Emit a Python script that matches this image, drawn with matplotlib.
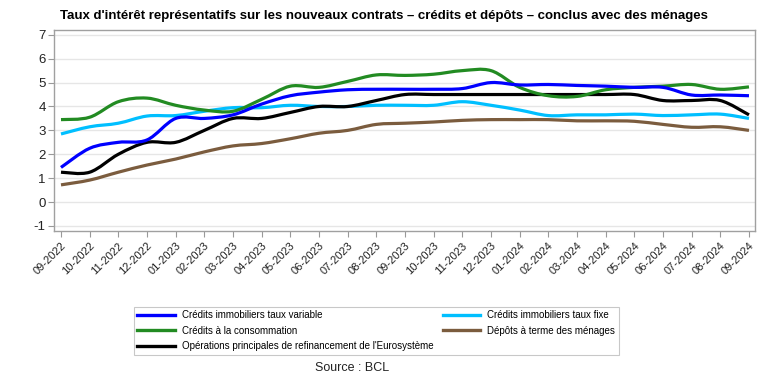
import numpy as np
import matplotlib
matplotlib.use("Agg")
import matplotlib.pyplot as plt
from matplotlib.path import Path
from matplotlib.patches import PathPatch
from matplotlib.lines import Line2D

plt.rcParams['font.family'] = ['Liberation Sans', 'DejaVu Sans']

months = ["09-2022", "10-2022", "11-2022", "12-2022", "01-2023", "02-2023", "03-2023",
          "04-2023", "05-2023", "06-2023", "07-2023", "08-2023", "09-2023", "10-2023",
          "11-2023", "12-2023", "01-2024", "02-2024", "03-2024", "04-2024", "05-2024",
          "06-2024", "07-2024", "08-2024", "09-2024"]

credits_variable = [1.45, 2.25, 2.5, 2.6, 3.5, 3.5, 3.65, 4.1, 4.45, 4.6, 4.7, 4.72, 4.72,
                    4.72, 4.75, 5.0, 4.9, 4.92, 4.88, 4.85, 4.8, 4.8, 4.48, 4.48, 4.45]
credits_fixe = [2.85, 3.15, 3.3, 3.6, 3.62, 3.8, 3.95, 3.95, 4.05, 4.0, 4.0, 4.05, 4.05,
                4.05, 4.2, 4.05, 3.85, 3.62, 3.65, 3.65, 3.68, 3.62, 3.65, 3.68, 3.5]
credits_conso = [3.45, 3.55, 4.2, 4.35, 4.05, 3.85, 3.8, 4.3, 4.85, 4.8, 5.05, 5.32, 5.3,
                 5.35, 5.5, 5.5, 4.8, 4.45, 4.42, 4.7, 4.8, 4.85, 4.92, 4.72, 4.82]
depots_terme = [0.72, 0.92, 1.25, 1.55, 1.8, 2.1, 2.35, 2.45, 2.65, 2.88, 3.0, 3.25, 3.3,
                3.35, 3.42, 3.45, 3.45, 3.45, 3.4, 3.4, 3.38, 3.25, 3.13, 3.15, 3.0]
operations_bce = [1.25, 1.25, 2.0, 2.5, 2.5, 3.0, 3.5, 3.5, 3.75, 4.0, 4.0, 4.25, 4.5,
                  4.5, 4.5, 4.5, 4.5, 4.5, 4.5, 4.5, 4.5, 4.25, 4.25, 4.25, 3.65]

series = [
    ("Crédits immobiliers taux variable", credits_variable, "#0000FF"),
    ("Crédits à la consommation", credits_conso, "#228B22"),
    ("Opérations principales de refinancement de l'Eurosystème", operations_bce, "#000000"),
    ("Crédits immobiliers taux fixe", credits_fixe, "#00BFFF"),
    ("Dépôts à terme des ménages", depots_terme, "#7B5C3E"),
]
draw_order = [4, 3, 2, 1, 0]

fig = plt.figure(figsize=(7.68, 3.84), dpi=100)
ax = fig.add_axes([54 / 768, 1 - 231 / 384, (755 - 54) / 768, (231 - 30) / 384])

x = np.arange(len(months))


def smooth_path(xs, ys, t=0.5):
    xs = np.asarray(xs, float)
    ys = np.asarray(ys, float)
    verts = [(xs[0], ys[0])]
    codes = [Path.MOVETO]
    n = len(xs)
    for i in range(n - 1):
        x0, y0 = (xs[i - 1], ys[i - 1]) if i > 0 else (xs[i], ys[i])
        x1, y1 = xs[i], ys[i]
        x2, y2 = xs[i + 1], ys[i + 1]
        x3, y3 = (xs[i + 2], ys[i + 2]) if i + 2 < n else (xs[i + 1], ys[i + 1])
        c1 = (x1 + (x2 - x0) / 6 * t * 2, y1 + (y2 - y0) / 6 * t * 2)
        c2 = (x2 - (x3 - x1) / 6 * t * 2, y2 - (y3 - y1) / 6 * t * 2)
        verts += [c1, c2, (x2, y2)]
        codes += [Path.CURVE4, Path.CURVE4, Path.CURVE4]
    return Path(verts, codes)


handles = []
for label, vals, color in series:
    handles.append(Line2D([0], [0], color=color, lw=2.4, label=label))

for i in draw_order:
    label, vals, color = series[i]
    patch = PathPatch(smooth_path(x, vals), facecolor='none', edgecolor=color,
                      lw=2.3, capstyle='butt', joinstyle='round', zorder=3 + (5 - i) * 0.1)
    ax.add_patch(patch)

ax.set_xlim(-0.244, len(months) - 1 + 0.21)
ax.set_ylim(-1.21, 7.2)
ax.set_yticks(range(-1, 8))
ax.set_yticklabels([str(v) for v in range(-1, 8)], fontsize=9.5, color='#222222')
ax.set_xticks(x)
ax.set_xticklabels(months, rotation=45, ha='right', rotation_mode='anchor', fontsize=8,
                   color='#222222')
ax.tick_params(axis='both', direction='out', length=4, width=0.8, colors='#999999',
               labelcolor='#222222', pad=2)
ax.tick_params(axis='x', pad=3)
ax.grid(axis='y', color='#e6e6e6', lw=1)
ax.set_axisbelow(True)
for sp in ax.spines.values():
    sp.set_color('#a0a0a0')
    sp.set_linewidth(1)

fig.text(0.5, 1 - 16 / 384, "Taux d'intérêt représentatifs sur les nouveaux contrats – crédits et dépôts – conclus avec des ménages",
         ha='center', va='center', fontsize=9.5, fontweight='bold')

leg = fig.legend(handles=handles, ncol=2, loc='upper left',
                 bbox_to_anchor=(134 / 768, 1 - 307 / 384), fontsize=7.0,
                 frameon=True, fancybox=False, edgecolor='#bbbbbb', handlelength=3.9,
                 handletextpad=0.7, columnspacing=0.9, labelspacing=0.55,
                 borderpad=0.35, borderaxespad=0)
leg.get_frame().set_linewidth(0.8)

fig.text(352 / 768, 1 - 368 / 384, "Source : BCL", ha='center', va='center', fontsize=9,
         color='#222222')

fig.savefig("out.png", dpi=100)
